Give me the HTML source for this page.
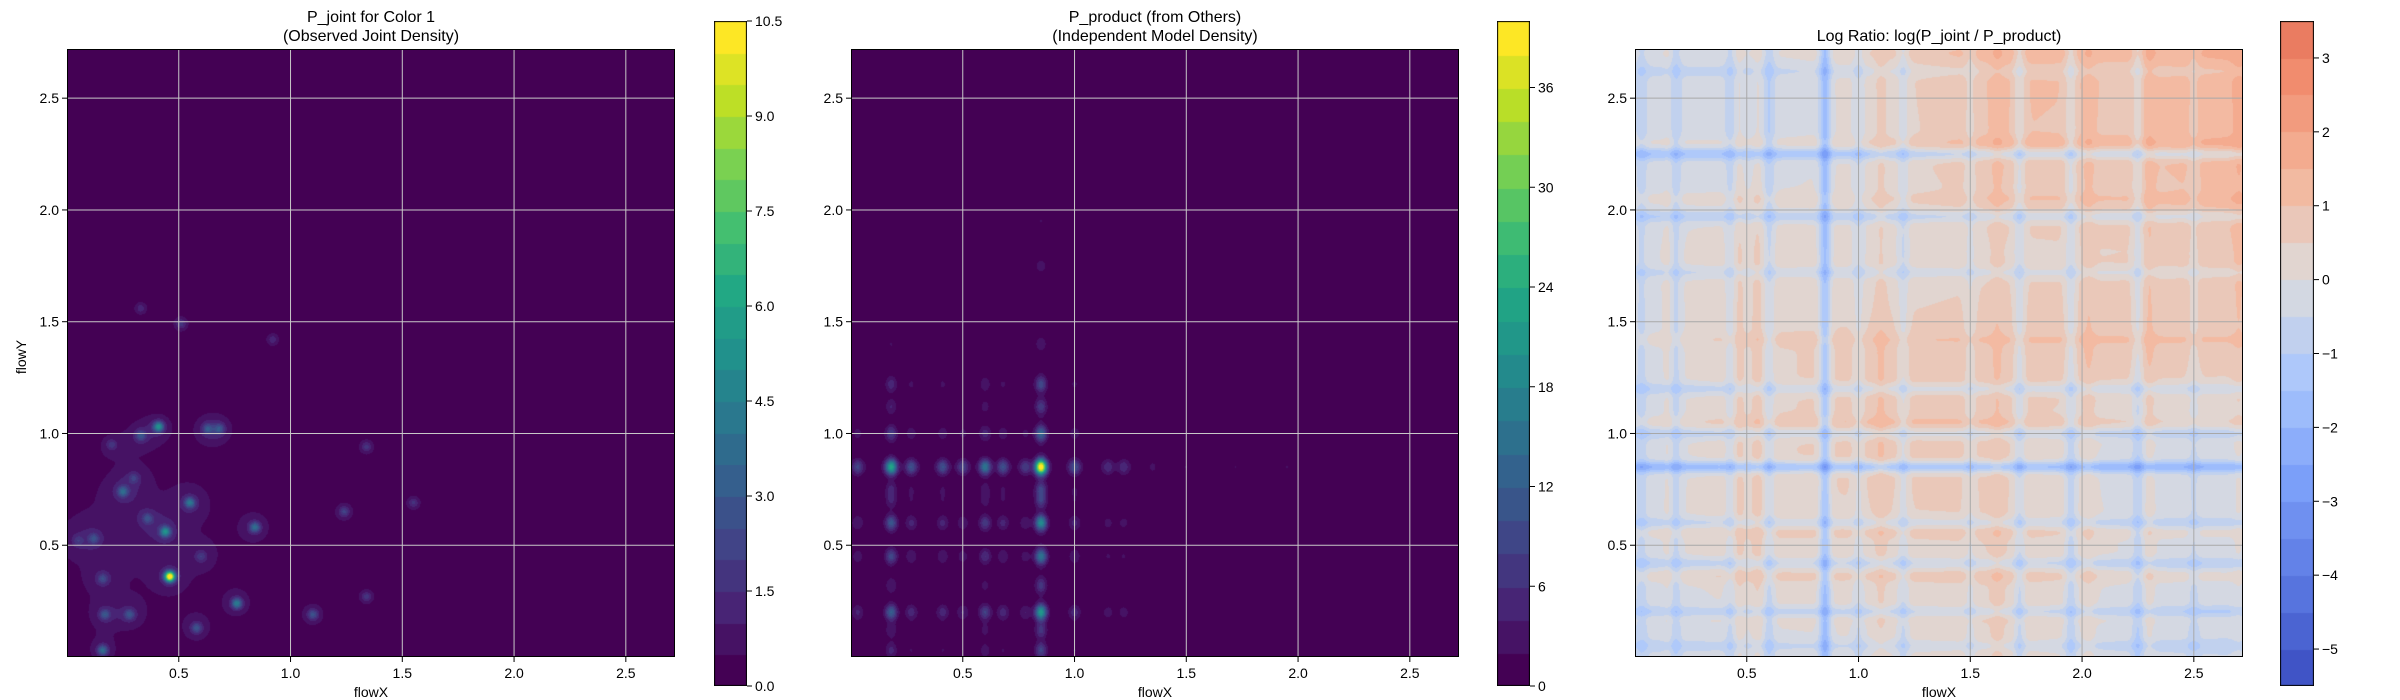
<!DOCTYPE html>
<html><head><meta charset="utf-8">
<style>
html,body{margin:0;padding:0;background:#fff;}
#root{position:relative;width:2400px;height:700px;overflow:hidden;font-family:"Liberation Sans",sans-serif;}
canvas{position:absolute;}
svg{position:absolute;left:0;top:0;}
</style></head>
<body>
<div id="root">
<canvas id="c1" width="608" height="608" style="left:67px;top:49px"></canvas>
<canvas id="c2" width="608" height="608" style="left:851px;top:49px"></canvas>
<canvas id="c3" width="608" height="608" style="left:1635px;top:49px"></canvas>
<canvas id="b1" width="33" height="665" style="left:714px;top:21px"></canvas>
<canvas id="b2" width="33" height="665" style="left:1497px;top:21px"></canvas>
<canvas id="b3" width="34" height="665" style="left:2280px;top:21px"></canvas>
<svg id="ov" width="2400" height="700"></svg>
</div>
<script>
// ---------- data ----------
const axisTicks = [0.5, 1.0, 1.5, 2.0, 2.5];
const axisTickLabels = ["0.5", "1.0", "1.5", "2.0", "2.5"];
// panel 1 blobs: x, y, amplitude
const jointX = [0.46,0.41,0.44,0.55,0.76,0.84,0.16,0.25,0.63,0.68,0.33,0.17,0.28,0.12,0.16,0.58,1.10,1.24,1.34,1.55,1.34,0.51,0.33,0.92,0.36,0.05,0.60,0.30,0.20];
const jointY = [0.36,1.03,0.56,0.69,0.24,0.58,0.03,0.74,1.02,1.02,0.99,0.19,0.19,0.53,0.35,0.13,0.19,0.65,0.94,0.69,0.27,1.49,1.56,1.42,0.62,0.52,0.45,0.80,0.95];
const jointAmp = [10.5,4.5,4.2,3.2,3.6,3.0,3.0,2.6,2.0,2.0,2.0,2.0,2.0,1.6,1.6,2.0,2.0,1.6,1.3,1.2,1.3,1.3,1.0,1.0,1.6,1.0,1.2,1.2,1.2];
// panel 2 marginal peaks
const prodXPeaks = [0.03,0.18,0.27,0.41,0.50,0.60,0.68,0.78,0.85,1.00,1.15,1.22,1.35,1.50,1.72,1.95];
const prodXWeights = [0.18,0.55,0.22,0.22,0.17,0.36,0.22,0.16,1.0,0.22,0.11,0.11,0.06,0.05,0.05,0.05];
const prodYPeaks = [0.03,0.12,0.20,0.32,0.45,0.60,0.70,0.75,0.85,1.00,1.12,1.22,1.40,1.75,1.95];
const prodYWeights = [0.18,0.14,0.5,0.14,0.36,0.45,0.16,0.18,1.0,0.3,0.15,0.2,0.09,0.08,0.05];
const prodMax = 40;
// panel 3 coarse log-ratio grid (rows top->bottom y=2.7..0, cols x=0..2.7)
const ratioGrid = [
 [-0.3,-0.3, 0.3, 1.1, 1.0, 1.5],
 [-0.3,-0.3, 0.2, 1.0, 0.9, 1.4],
 [-0.1, 0.3, 0.1, 0.4, 0.5, 0.9],
 [-0.2, 0.4, 0.7, 0.8, 0.8, 0.7],
 [-0.3, 0.4, 0.7, 0.6,-0.2,-0.2],
 [-0.2, 0.4, 0.3, 0.5, 0.0,-0.2],
 [-0.4,-0.2, 0.0, 0.4,-0.3,-0.5]];
const ratioColX = [0.03,0.18,0.43,0.60,0.85,1.00,1.20,1.50,1.72,1.95,2.25,2.50];
const ratioColV = [-0.5,-0.8,-0.6,-0.8,-1.8,-0.6,-0.7,-0.5,-0.9,-0.9,-0.8,-0.4];
const ratioRowY = [0.05,0.20,0.42,0.60,0.85,1.00,1.20,1.72,1.97,2.25,2.62];
const ratioRowV = [-0.5,-0.9,-0.8,-0.7,-1.8,-0.8,-0.8,-0.6,-0.9,-1.2,-0.4];
const ratioRedX = [0.16,0.46,0.55,1.10,1.62,2.03,2.30,2.70];
const ratioRedY = [0.18,0.36,0.56,1.05,1.42,2.05,2.30,2.70];
const ratioRedV = [0.8,1.0,0.8,1.0,0.8,0.8,0.9,0.6];

const XMAX = 2.72, YMAX = 2.72, SZ = 608;
const panelLeft = [67, 851, 1635], axTop = 49;
const cbLeft = [714, 1497, 2280], cbTop = 21, cbH = 665;

// ---------- colormaps ----------
const VIR = [[68,1,84],[72,36,117],[65,68,135],[53,95,141],[42,120,142],[33,145,140],[34,168,132],[68,191,112],[122,209,81],[189,223,38],[253,231,37]];
const CW = [[59,76,192],[90,120,226],[123,159,249],[170,199,253],[221,220,220],[245,183,156],[241,140,110],[222,96,76],[180,4,38]];
function cmap(stops,t){t=Math.max(0,Math.min(1,t));const n=stops.length-1;const f=t*n;const i=Math.min(n-1,Math.floor(f));const u=f-i;const a=stops[i],b=stops[i+1];return [a[0]+(b[0]-a[0])*u,a[1]+(b[1]-a[1])*u,a[2]+(b[2]-a[2])*u];}
function xs(v){return v/XMAX*SZ;}
function ys(v){return SZ - v/YMAX*SZ;}
function bandColors(vmin,step,nb,stops,nlo,nhi){const cols=[];for(let i=0;i<nb;i++){const t=(nlo===undefined)?i/(nb-1):((vmin+(i+0.5)*step)-nlo)/(nhi-nlo);cols.push(cmap(stops,t));}return cols;}

function draw(id,fn,vmin,step,nb,cols){
  const c=document.getElementById(id),ctx=c.getContext('2d');
  const img=ctx.createImageData(SZ,SZ);
  for(let py=0;py<SZ;py++){const y=(SZ-py-0.5)/SZ*YMAX;
    for(let px=0;px<SZ;px++){const x=(px+0.5)/SZ*XMAX;
      let k=Math.floor((fn(x,y)-vmin)/step);k=Math.max(0,Math.min(nb-1,k));
      const col=cols[k],o=(py*SZ+px)*4;img.data[o]=col[0];img.data[o+1]=col[1];img.data[o+2]=col[2];img.data[o+3]=255;}}
  ctx.putImageData(img,0,0);
}
function drawBar(id,nb,cols){
  const c=document.getElementById(id),ctx=c.getContext('2d');
  for(let i=0;i<nb;i++){const col=cols[i];ctx.fillStyle=`rgb(${col[0]|0},${col[1]|0},${col[2]|0})`;
    const y0=cbH-(i+1)*cbH/nb;ctx.fillRect(0,Math.floor(y0),c.width,Math.ceil(cbH/nb)+1);}
  ctx.strokeStyle='#000';ctx.lineWidth=1;ctx.strokeRect(0.5,0.5,c.width-1,cbH-1);
}
const g=(d,s)=>Math.exp(-d*d/(2*s*s));

// panel 1
function fJoint(x,y){let v=0;for(let i=0;i<jointX.length;i++){const dx=x-jointX[i],dy=y-jointY[i];if(Math.abs(dx)>0.3||Math.abs(dy)>0.3)continue;const r=Math.sqrt(dx*dx+dy*dy);v+=jointAmp[i]*g(r,0.016)+0.35*g(r,0.05)*Math.min(2,jointAmp[i]);}
  v+=0.6*g(Math.hypot((x-0.3)/1.3,y-0.55),0.3);return v;}
const col1=bandColors(0,0.5,21,VIR);
draw('c1',fJoint,0,0.5,21,col1);drawBar('b1',21,col1);
// panel 2
function mX(x){let v=0;for(let i=0;i<prodXPeaks.length;i++)v+=prodXWeights[i]*g(x-prodXPeaks[i],0.018);return v;}
function mY(y){let v=0;for(let i=0;i<prodYPeaks.length;i++)v+=prodYWeights[i]*g(y-prodYPeaks[i],0.024);return v;}
const col2=bandColors(0,2,20,VIR);
draw('c2',(x,y)=>prodMax*mX(x)*mY(y)+1.2*mX(x)*(y<1.3?1:0)+1.2*mY(y)*(x<1.3?1:0),0,2,20,col2);drawBar('b2',20,col2);
// panel 3
function base(x,y){const fx=x/XMAX*5,fy=(YMAX-y)/YMAX*6;const i=Math.min(4,Math.floor(fx)),j=Math.min(5,Math.floor(fy));const u=fx-i,w=fy-j;
  return ratioGrid[j][i]*(1-u)*(1-w)+ratioGrid[j][i+1]*u*(1-w)+ratioGrid[j+1][i]*(1-u)*w+ratioGrid[j+1][i+1]*u*w;}
function fRatio(x,y){let v=base(x,y);
  for(let i=0;i<ratioColX.length;i++)v+=ratioColV[i]*g(x-ratioColX[i],0.018);
  for(let i=0;i<ratioRowY.length;i++)v+=ratioRowV[i]*g(y-ratioRowY[i],0.018);
  for(let i=0;i<ratioRedX.length;i++)v+=ratioRedV[i]*0.4*g(x-ratioRedX[i],0.02);
  for(let i=0;i<ratioRedY.length;i++)v+=ratioRedV[i]*0.4*g(y-ratioRedY[i],0.02);
  return v;}
const col3=bandColors(-5.5,0.5,18,CW,-5.5,5.5);
draw('c3',fRatio,-5.5,0.5,18,col3);drawBar('b3',18,col3);

// ---------- overlay ----------
const NS='http://www.w3.org/2000/svg',ov=document.getElementById('ov');
function el(tag,attrs,txt){const e=document.createElementNS(NS,tag);for(const k in attrs)e.setAttribute(k,attrs[k]);if(txt!==undefined)e.textContent=txt;ov.appendChild(e);return e;}
const titles=[["P_joint for Color 1","(Observed Joint Density)"],["P_product (from Others)","(Independent Model Density)"],["Log Ratio: log(P_joint / P_product)"]];
const gridCol=['#c8c8c8','#c8c8c8','#a8a8a8'];
for(let p=0;p<3;p++){const L=panelLeft[p];
  for(let k=0;k<axisTicks.length;k++){const gx=L+xs(axisTicks[k]),gy=axTop+ys(axisTicks[k]);
    const vl=el('line',{x1:gx,y1:axTop,x2:gx,y2:axTop+SZ,stroke:gridCol[p],'stroke-width':1});
    
    
    const hl=el('line',{x1:L,y1:gy,x2:L+SZ,y2:gy,stroke:gridCol[p],'stroke-width':1});
    
    
    el('line',{x1:gx,y1:axTop+SZ,x2:gx,y2:axTop+SZ+5,stroke:'#000'});
    el('line',{x1:L-5,y1:gy,x2:L,y2:gy,stroke:'#000'});
    const xt=el('text',{x:gx,y:axTop+SZ+21,'font-size':14,'text-anchor':'middle'},axisTickLabels[k]);
    
    
    const yt=el('text',{x:L-8,y:gy+5,'font-size':14,'text-anchor':'end'},axisTickLabels[k]);
    
    
  }
  const fr=el('rect',{x:L+0.5,y:axTop+0.5,width:SZ-1,height:SZ-1,fill:'none',stroke:'#000'});
  
  
  const xl=el('text',{x:L+SZ/2,y:697,'font-size':14,'text-anchor':'middle'},'flowX');
  
  
  const t=titles[p];
  if(t.length===2){const a=el('text',{x:L+SZ/2,y:22,'font-size':16,'text-anchor':'middle'},t[0]);
    const b=el('text',{x:L+SZ/2,y:41,'font-size':16,'text-anchor':'middle'},t[1]);}
  else{const a=el('text',{x:L+SZ/2,y:41,'font-size':16,'text-anchor':'middle'},t[0]);}
}
const yl=el('text',{x:26,y:357,'font-size':14,'text-anchor':'middle',transform:'rotate(-90 26 357)'},'flowY');


// colorbar ticks
const cbTicks=[[0,1.5,3,4.5,6,7.5,9,10.5],[0,6,12,18,24,30,36],[-5,-4,-3,-2,-1,0,1,2,3]];
const cbLabels=[["0.0","1.5","3.0","4.5","6.0","7.5","9.0","10.5"],["0","6","12","18","24","30","36"],["\u22125","\u22124","\u22123","\u22122","\u22121","0","1","2","3"]];
const cbRange=[[0,10.5],[0,40],[-5.5,3.5]];
const cbW=[33,33,34];
for(let p=0;p<3;p++){const r=cbRange[p];
  for(let k=0;k<cbTicks[p].length;k++){const y=cbTop+cbH-(cbTicks[p][k]-r[0])/(r[1]-r[0])*cbH;const x=cbLeft[p]+cbW[p];
    el('line',{x1:x,y1:y,x2:x+5,y2:y,stroke:'#000'});
    const tl=el('text',{x:x+8,y:y+5,'font-size':14},cbLabels[p][k]);
    
    
  }}
</script>
</body></html>
